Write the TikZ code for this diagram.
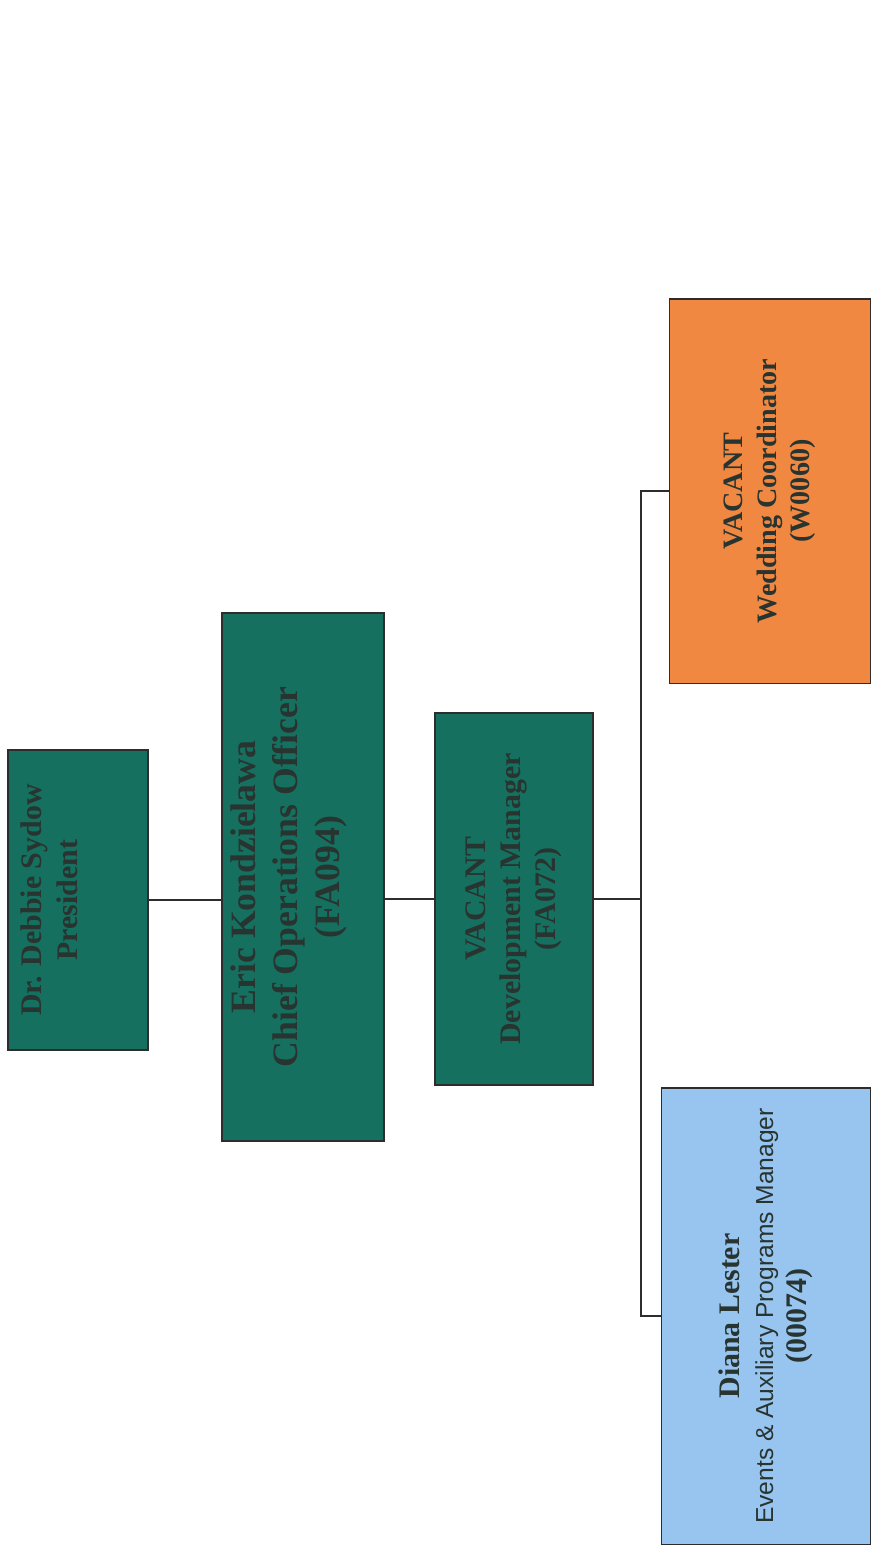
\documentclass[tikz,border=0pt]{standalone}
\usepackage{fontspec}
\setmainfont{Liberation Serif}
\newfontfamily\arialfont{Liberation Sans}
\usepackage{tikz}
\usetikzlibrary{positioning}

\definecolor{teal box}{RGB}{22,112,96}
\definecolor{orange box}{RGB}{241,136,66}
\definecolor{blue box}{RGB}{152,196,240}
\definecolor{ink}{RGB}{40,52,48}
\definecolor{rule}{RGB}{45,45,45}

\begin{document}
\begin{tikzpicture}[x=0.02cm,y=-0.02cm,
  post/.style={draw=rule,line width=1.1pt,rotate=90,align=center,
    inner sep=0pt,text=ink,font=\bfseries},
  green post/.style={post,fill=teal box},
  post text/.style={rotate=90,align=center,inner sep=0pt,text=ink},
  link/.style={draw=rule,line width=1pt}]
\useasboundingbox (0,0) rectangle (871,1551);
% boxes
\node [green post,minimum width=6cm,minimum height=2.8cm] (pres) at (78,900) {};
\node [post text,font=\bfseries\fontsize{17}{20.5}\selectfont] (pres text) at (49,900)
  {Dr. Debbie Sydow\\President};
\node [green post,minimum width=10.58cm,minimum height=3.24cm] (coo) at (303,877) {};
\node [post text,font=\bfseries\fontsize{20.3}{24}\selectfont] (coo text) at (289,877)
  {Eric Kondzielawa\\Chief Operations Officer\\(FA094)};
\node [green post,minimum width=7.44cm,minimum height=3.16cm,
  font=\bfseries\fontsize{17}{20}\selectfont] (dev) at (514,899)
  {VACANT\\Development Manager\\(FA072)};
\node [post,fill=orange box,minimum width=7.7cm,minimum height=4.02cm,
  font=\bfseries\fontsize{16}{19}\selectfont] (wed) at (770,491)
  {VACANT\\Wedding Coordinator\\(W0060)};
\node [post,fill=blue box,minimum width=9.14cm,minimum height=4.18cm,
  font=\bfseries\fontsize{17}{19}\selectfont] (diana) at (766,1316)
  {Diana Lester\\{\arialfont\mdseries\fontsize{14}{17}\selectfont Events \& Auxiliary Programs Manager}\\(00074)};
% lines
\draw [link] (pres.south) -- (pres.south -| coo.north);
\draw [link,line width=1.6pt] (dev.north -| coo.south) -- (dev.north);
\draw [link] (dev.south) -- ++(47,0) coordinate (bus);
\draw [link] (bus) |- (wed.north);
\draw [link] (bus) |- (diana.north);
\end{tikzpicture}
\end{document}
